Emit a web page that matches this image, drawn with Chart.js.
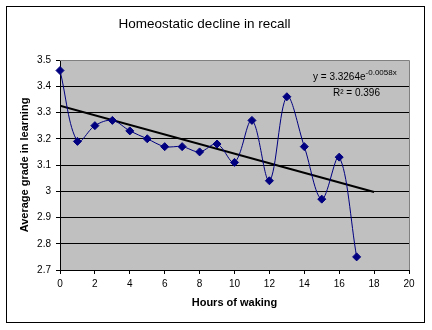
<!DOCTYPE html>
<html><head><meta charset="utf-8">
<script src="https://cdn.jsdelivr.net/npm/chart.js@4.4.1/dist/chart.umd.min.js"></script>
<style>html,body{margin:0;padding:0;background:#fff}canvas{display:block}</style>
</head><body>
<canvas id="c" width="432" height="330"></canvas>
<script>
const hours = [0,1,2,3,4,5,6,7,8,9,10,11,12,13,14,15,16,17];
const grades = [3.46,3.19,3.25,3.27,3.23,3.20,3.17,3.17,3.15,3.18,3.11,3.27,3.04,3.36,3.17,2.97,3.13,2.75];
const trendHours = [0,18];
const trendGrades = [3.326,2.997];
const xTickValues = [0,2,4,6,8,10,12,14,16,18,20];
const xTickLabels = ['0','2','4','6','8','10','12','14','16','18','20'];
const yTickValues = [2.7,2.8,2.9,3.0,3.1,3.2,3.3,3.4,3.5];
const yTickLabels = ['2.7','2.8','2.9','3','3.1','3.2','3.3','3.4','3.5'];
const chartTitle = 'Homeostatic decline in recall';
const xTitle = 'Hours of waking';
const yTitle = 'Average grade in learning';
const eqMain = 'y = 3.3264e';
const eqExp = '-0.0058x';
const eqR2 = 'R\u00B2 = 0.396';

const FONT = '"Liberation Sans", Arial, sans-serif';

const decor = {
  id: 'decor',
  beforeDraw(chart) {
    const ctx = chart.ctx, a = chart.chartArea;
    ctx.save();
    ctx.fillStyle = '#fff';
    ctx.fillRect(0, 0, chart.width, chart.height);
    ctx.strokeStyle = '#000';
    ctx.lineWidth = 1;
    ctx.strokeRect(6.5, 6.5, 418, 316);
    ctx.fillStyle = '#C0C0C0';
    ctx.fillRect(a.left, a.top, a.right - a.left, a.bottom - a.top);
    ctx.restore();
  },
  afterDraw(chart) {
    const ctx = chart.ctx, a = chart.chartArea;
    ctx.save();
    ctx.strokeStyle = '#808080';
    ctx.lineWidth = 1;
    ctx.beginPath();
    ctx.moveTo(a.left, a.top + 0.5);
    ctx.lineTo(a.right + 0.5, a.top + 0.5);
    ctx.lineTo(a.right + 0.5, a.bottom);
    ctx.stroke();
    ctx.fillStyle = '#000';
    ctx.textBaseline = 'alphabetic';
    ctx.font = '10px ' + FONT;
    ctx.fillText(eqMain, 313, 80);
    const w = ctx.measureText(eqMain).width;
    ctx.font = '8px ' + FONT;
    ctx.fillText(eqExp, 313 + w, 75);
    ctx.font = '10px ' + FONT;
    ctx.fillText(eqR2, 333, 96);
    ctx.restore();
  }
};

new Chart(document.getElementById('c'), {
  type: 'line',
  data: {
    datasets: [
      {
        data: hours.map((h, i) => ({x: h, y: grades[i]})),
        borderColor: '#000080',
        backgroundColor: '#000080',
        borderWidth: 1,
        pointStyle: 'rectRot',
        pointRadius: 4,
        pointBackgroundColor: '#000080',
        pointBorderColor: '#000080',
        pointBorderWidth: 1,
        tension: 0.35,
        fill: false,
        clip: false
      },
      {
        data: trendHours.map((h, i) => ({x: h, y: trendGrades[i]})),
        borderColor: '#000',
        borderWidth: 2,
        pointRadius: 0,
        tension: 0,
        fill: false
      }
    ]
  },
  options: {
    responsive: false,
    animation: false,
    devicePixelRatio: 1,
    layout: {padding: {left: 0, right: 23, top: 0, bottom: 0}},
    plugins: {
      legend: {display: false},
      tooltip: {enabled: false},
      title: {
        display: true,
        text: chartTitle,
        color: '#000',
        font: {family: FONT, size: 13.5, weight: 'normal'},
        padding: {top: 16, bottom: 27.8}
      }
    },
    scales: {
      x: {
        type: 'linear',
        min: 0, max: 20,
        afterFit(s) { s.height = 60; },
        afterBuildTicks(s) { s.ticks = xTickValues.map(v => ({value: v})); },
        ticks: {
          autoSkip: false, maxRotation: 0, color: '#000', padding: 4,
          font: {family: FONT, size: 10},
          callback: (v, i) => xTickLabels[i]
        },
        grid: {drawOnChartArea: false, drawTicks: true, tickLength: 4, tickColor: '#000', color: '#000'},
        border: {display: true, color: '#000', width: 1},
        title: {
          display: true, text: xTitle, color: '#000',
          font: {family: FONT, size: 11, weight: 'bold'},
          padding: {top: 0, bottom: 20}
        }
      },
      y: {
        type: 'linear',
        min: 2.7, max: 3.5,
        afterFit(s) { s.width = 60; },
        afterBuildTicks(s) { s.ticks = yTickValues.map(v => ({value: v})); },
        ticks: {
          color: '#000', padding: 5,
          font: {family: FONT, size: 10},
          callback: (v, i) => yTickLabels[i]
        },
        grid: {drawOnChartArea: true, drawTicks: true, tickLength: 4, tickColor: '#000', color: '#000'},
        border: {display: true, color: '#000', width: 1},
        title: {
          display: true, text: yTitle, color: '#000',
          font: {family: FONT, size: 11, weight: 'bold'},
          padding: {top: 18, bottom: 0}
        }
      }
    }
  },
  plugins: [decor]
});
</script>
</body></html>
